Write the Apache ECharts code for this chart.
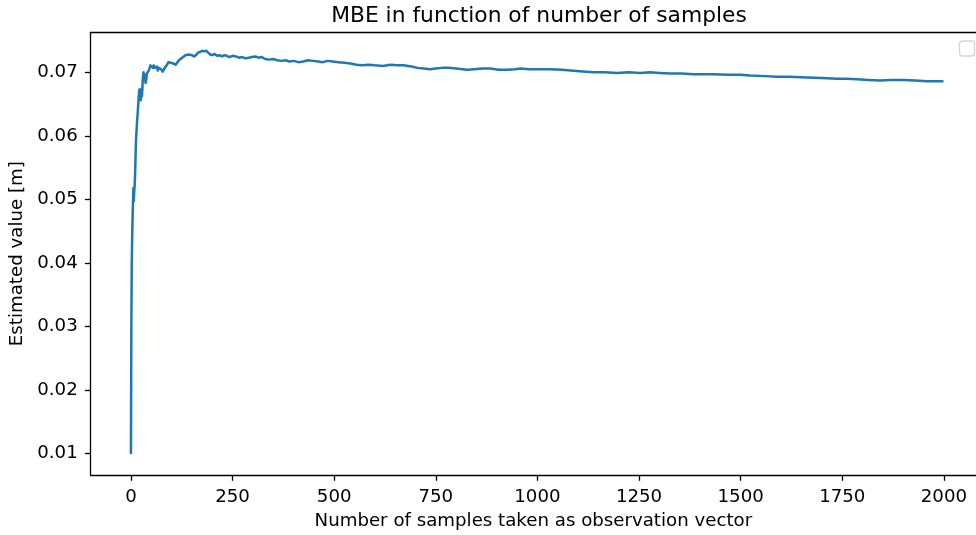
<!DOCTYPE html>
<html>
<head>
<meta charset="utf-8">
<script src="https://cdn.jsdelivr.net/npm/echarts@6/dist/echarts.min.js"></script>
<style>html,body{margin:0;padding:0;background:#fff}#c{width:976px;height:535px}</style>
</head>
<body>
<div id="c"></div>
<script>
// Chart text
const titleText = 'MBE in function of number of samples';
const xName = 'Number of samples taken as observation vector';
const yName = 'Estimated value [m]';

// Tick labels
const xTicks = [0, 250, 500, 750, 1000, 1250, 1500, 1750, 2000];
const yTicks = [0.01, 0.02, 0.03, 0.04, 0.05, 0.06, 0.07];

// Series: number of samples (x) and estimated MBE (y)
const samples = [0,1,2,3,4,5,6,7,8,9,10,11,12,13,14,15,17,18,19,20,21,22,23,24,25,26,27,28,29,30,31,32,33,34,35,36,37,38,39,40,42,44,46,48,50,52,54,56,58,60,62,64,66,68,70,72,74,76,78,80,83,86,89,92,95,98,101,104,107,110,114,118,122,126,130,134,138,142,146,150,155,160,165,170,175,180,185,190,195,200,206,212,218,224,230,236,242,250,258,266,274,282,290,298,306,314,322,330,340,350,360,370,380,390,400,412,424,436,448,460,472,484,496,510,525,540,555,570,585,600,620,638,655,670,690,705,720,736,750,765,780,800,827,845,865,884,905,925,945,958,980,1000,1031,1060,1097,1120,1138,1165,1196,1225,1253,1277,1300,1327,1355,1384,1410,1433,1470,1500,1523,1560,1589,1620,1663,1700,1737,1760,1786,1815,1843,1870,1901,1930,1958,1980,1999];
const mbe = [0.0099,0.0300,0.0395,0.0440,0.0470,0.0495,0.0518,0.0497,0.0512,0.0520,0.0535,0.0560,0.0585,0.0600,0.0610,0.0622,0.0640,0.0650,0.0661,0.0668,0.0673,0.0660,0.0668,0.0656,0.0662,0.0674,0.0662,0.0672,0.0688,0.0695,0.0700,0.0693,0.0697,0.0688,0.0695,0.0683,0.0680,0.0690,0.0698,0.0701,0.0698,0.0703,0.0707,0.0711,0.0714,0.0712,0.0707,0.0711,0.0707,0.0710,0.0705,0.0709,0.0703,0.0707,0.0704,0.0708,0.0705,0.0703,0.0701,0.0704,0.0707,0.0710,0.0712,0.0716,0.0718,0.0715,0.0712,0.0714,0.0716,0.0712,0.0715,0.0719,0.0721,0.0723,0.0725,0.0727,0.0724,0.0728,0.0729,0.0727,0.0725,0.0727,0.0731,0.0732,0.0734,0.0733,0.0734,0.0731,0.0728,0.0727,0.0729,0.0726,0.0727,0.0725,0.0727,0.0726,0.0724,0.0726,0.0725,0.0723,0.0724,0.0722,0.0723,0.0724,0.0725,0.0723,0.0724,0.0721,0.0720,0.0721,0.0719,0.0718,0.0719,0.0717,0.0718,0.0716,0.0717,0.0719,0.0718,0.0717,0.0716,0.0718,0.0717,0.0716,0.0715,0.0714,0.0712,0.0711,0.0712,0.0711,0.0710,0.0712,0.0711,0.0711,0.0709,0.0707,0.0706,0.0705,0.0706,0.0707,0.0707,0.0706,0.0704,0.0705,0.0706,0.0706,0.0704,0.0704,0.0705,0.0706,0.0705,0.0705,0.0705,0.0704,0.0702,0.0701,0.0700,0.0700,0.0699,0.0700,0.0699,0.0700,0.0699,0.0698,0.0698,0.0697,0.0697,0.0697,0.0696,0.0696,0.0695,0.0694,0.0693,0.0693,0.0692,0.0691,0.0690,0.0690,0.0689,0.0688,0.0687,0.0688,0.0688,0.0687,0.0686,0.0686,0.0686];

const seriesData = samples.map((s, i) => [s, mbe[i]]);
const FONT = 'DejaVu Sans';
const TICK_FS = 18.2;

const chart = echarts.init(document.getElementById('c'), null, {renderer: 'canvas'});
chart.setOption({
  animation: false,
  backgroundColor: '#ffffff',
  textStyle: {fontFamily: FONT},
  title: {
    text: titleText,
    left: 534,
    top: 0,
    textAlign: 'center',
    textStyle: {fontFamily: FONT, fontSize: 21.8, fontWeight: 'normal', color: '#000'}
  },
  grid: {
    left: 90.7, top: 32.3, right: 0, height: 444.4,
    show: false, containLabel: false
  },
  xAxis: [{
    type: 'value',
    min: -99, max: 2079,
    name: xName,
    nameLocation: 'middle',
    nameGap: 37,
    nameTextStyle: {fontFamily: FONT, fontSize: TICK_FS, color: '#000'},
    axisLine: {show: true, onZero: false, lineStyle: {color: '#000', width: 1.3}},
    axisTick: {show: true, length: 5.8, inside: false, lineStyle: {color: '#000', width: 1.3}, customValues: xTicks},
    axisLabel: {show: true, margin: 13, fontFamily: FONT, fontSize: TICK_FS, color: '#000', customValues: xTicks, formatter: v => String(v)},
    splitLine: {show: false}
  }, {
    type: 'value',
    position: 'top',
    min: -99, max: 2079,
    axisLine: {show: true, onZero: false, lineStyle: {color: '#000', width: 1.3}},
    axisTick: {show: false},
    axisLabel: {show: false},
    splitLine: {show: false}
  }],
  yAxis: {
    type: 'value',
    min: 0.0066, max: 0.0763,
    name: yName,
    nameLocation: 'middle',
    nameGap: 60,
    nameRotate: 90,
    nameTextStyle: {fontFamily: FONT, fontSize: TICK_FS, color: '#000'},
    axisLine: {show: true, onZero: false, lineStyle: {color: '#000', width: 1.3}},
    axisTick: {show: true, length: 5.8, inside: false, lineStyle: {color: '#000', width: 1.3}, customValues: yTicks},
    axisLabel: {show: true, margin: 13, fontFamily: FONT, fontSize: TICK_FS, color: '#000', customValues: yTicks, formatter: v => v.toFixed(2)},
    splitLine: {show: false}
  },
  graphic: [{
    type: 'rect',
    shape: {x: 959.5, y: 41, width: 15, height: 15, r: 3},
    style: {fill: '#fff', stroke: '#d6d6d6', lineWidth: 1.3},
    z: 100
  }],
  series: [{
    type: 'line',
    xAxisIndex: 0,
    data: seriesData,
    showSymbol: false,
    symbol: 'none',
    clip: true,
    lineStyle: {color: '#1f77b4', width: 2.5, join: 'round', cap: 'butt'},
    itemStyle: {color: '#1f77b4'}
  }]
});
</script>
</body>
</html>
